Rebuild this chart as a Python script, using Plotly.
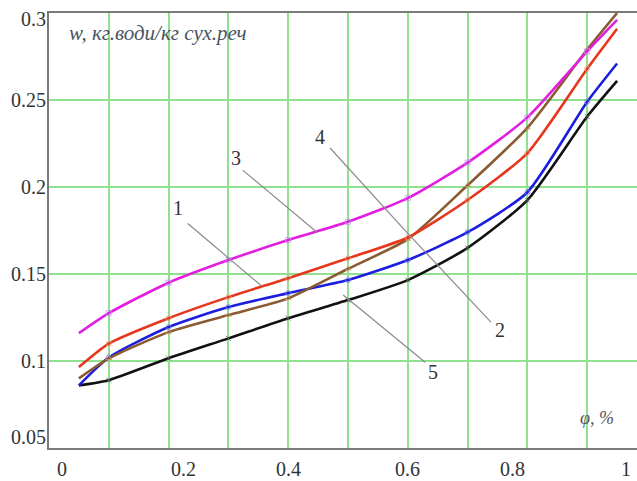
import plotly.graph_objects as go

# ---- data ----
phi = [0.05, 0.1, 0.2, 0.3, 0.4, 0.5, 0.6, 0.7, 0.8, 0.9, 0.95]
w_curve1 = [0.0965, 0.110, 0.1246, 0.1367, 0.1476, 0.159, 0.171, 0.1925, 0.2195, 0.268, 0.291]   # red
w_curve2 = [0.086, 0.102, 0.1195, 0.131, 0.139, 0.1465, 0.158, 0.174, 0.197, 0.249, 0.271]      # blue
w_curve3 = [0.116, 0.1275, 0.145, 0.158, 0.1695, 0.180, 0.1936, 0.214, 0.240, 0.278, 0.296]     # magenta
w_curve4 = [0.090, 0.1015, 0.1166, 0.1264, 0.136, 0.153, 0.170, 0.201, 0.234, 0.279, 0.300]     # brown
w_curve5 = [0.086, 0.089, 0.1016, 0.113, 0.1246, 0.135, 0.1465, 0.165, 0.1925, 0.2405, 0.261]   # black

x_ticks = [0, 0.2, 0.4, 0.6, 0.8, 1]
x_tick_text = ["0", "0.2", "0.4", "0.6", "0.8", "1"]
y_ticks = [0.05, 0.1, 0.15, 0.2, 0.25, 0.3]
y_tick_text = ["0.05", "0.1", "0.15", "0.2", "0.25", "0.3"]
x_grid = [0.1, 0.2, 0.3, 0.4, 0.5, 0.6, 0.7, 0.8, 0.9]
y_grid = [0.1, 0.15, 0.2, 0.25]

y_title = "w, кг.води/кг сух.реч"
x_title = "φ, %"

curve_labels = ["1", "2", "3", "4", "5"]
label_pos = [(0.2157, 0.1879), (0.7542, 0.1177), (0.3127, 0.2166), (0.4532, 0.2287), (0.6421, 0.0936)]
leader_from = [(0.232, 0.179), (0.739, 0.1223), (0.324, 0.2097), (0.470, 0.2224), (0.492, 0.1379)]
leader_to = [(0.356, 0.143), (0.595, 0.1752), (0.448, 0.174), (0.595, 0.1752), (0.629, 0.0993)]

X_RANGE = [0, 0.9833]
Y_RANGE = [0.05, 0.3]

series = [
    (w_curve5, "#111111", "x-thin-open", "#666666"),
    (w_curve2, "#1d1de0", "circle-open", "#7a7af0"),
    (w_curve4, "#8a5a30", "triangle-up-open", "#c8a070"),
    (w_curve1, "#e6361c", "circle-open", "#f09a80"),
    (w_curve3, "#e21ee0", "square-open", "#c890f0"),
]

fig = go.Figure()
for vals, col, sym, mcol in series:
    fig.add_trace(go.Scatter(
        x=phi, y=vals, mode="lines",
        line=dict(color=col, width=2.6, shape="spline", smoothing=0.6),
        showlegend=False, hoverinfo="skip"))
    fig.add_trace(go.Scatter(
        x=phi[1:-1], y=vals[1:-1], mode="markers",
        marker=dict(symbol=sym, size=5, color=mcol, opacity=0.8,
                    line=dict(width=1, color=mcol)),
        showlegend=False, hoverinfo="skip"))

serif = "Liberation Serif, Times New Roman, serif"
tick_font = dict(family=serif, size=20, color="#333333")

annotations = []
# x tick labels
for v, t in zip(x_ticks, x_tick_text):
    shift = 6 if v == x_ticks[0] else (-14 if v == x_ticks[-1] else 0)
    annotations.append(dict(x=(v - X_RANGE[0]) / (X_RANGE[1] - X_RANGE[0]), xref="paper",
                            y=0, yref="paper", yanchor="middle", yshift=-21, xshift=shift,
                            text=t, showarrow=False, font=tick_font))
# y tick labels
for v, t in zip(y_ticks, y_tick_text):
    ys = -6 if v == y_ticks[-1] else (11 if v == y_ticks[0] else 0)
    annotations.append(dict(x=0, xref="paper", xanchor="right", xshift=-1,
                            y=v, yref="y", yanchor="middle", yshift=ys,
                            text=t, showarrow=False, font=tick_font))
# axis titles
annotations.append(dict(x=0.03, xref="paper", xanchor="left", y=0.3, yref="y", yshift=-20,
                        yanchor="middle", text=y_title, showarrow=False,
                        font=dict(family=serif, size=21, color="#4a5560", style="italic")))
annotations.append(dict(x=0.916, xref="x", xanchor="center", y=0.0671, yref="y",
                        yanchor="middle", text=x_title, showarrow=False,
                        font=dict(family=serif, size=18, color="#555555", style="italic")))
# curve labels
for lab, (lx, ly) in zip(curve_labels, label_pos):
    annotations.append(dict(x=lx, y=ly, xref="x", yref="y", text=lab, showarrow=False,
                            font=dict(family=serif, size=20, color="#333333")))

shapes = []
for (x0, y0), (x1, y1) in zip(leader_from, leader_to):
    shapes.append(dict(type="line", xref="x", yref="y", x0=x0, y0=y0, x1=x1, y1=y1,
                       line=dict(color="#8a8a8a", width=1.2), layer="above"))

fig.update_layout(
    width=637, height=481,
    margin=dict(l=49, r=0, t=13, b=33),
    paper_bgcolor="white", plot_bgcolor="white",
    annotations=annotations, shapes=shapes,
    xaxis=dict(range=X_RANGE, tickvals=x_grid, showticklabels=False, ticks="",
               showgrid=True, gridcolor="#8fe08f", gridwidth=1.5, zeroline=False,
               showline=True, linecolor="#7a7a7a", linewidth=2, mirror=True),
    yaxis=dict(range=Y_RANGE, tickvals=y_grid, showticklabels=False, ticks="",
               showgrid=True, gridcolor="#8fe08f", gridwidth=1.5, zeroline=False,
               showline=True, linecolor="#7a7a7a", linewidth=2),
)

fig.write_html("out.html", config={"displayModeBar": False},
               post_script="document.body.style.margin='0px';")
